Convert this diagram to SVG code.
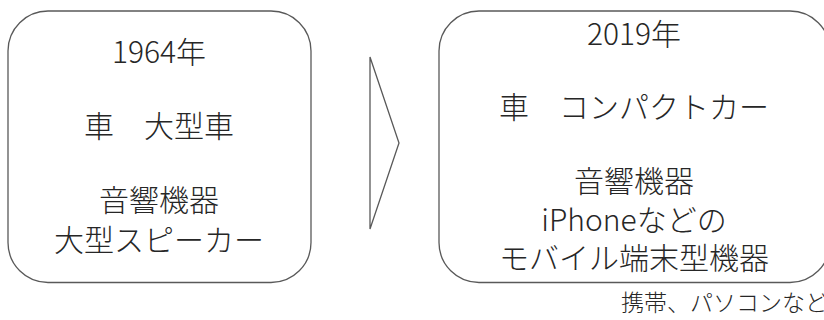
<svg xmlns="http://www.w3.org/2000/svg" width="824" height="320" viewBox="0 0 824 320">
<style>
.box{fill:#ffffff;stroke:#595959;stroke-width:1.3}
.t{font-family:"Noto Sans CJK JP","Noto Sans",sans-serif;font-size:30px;font-weight:300;fill:#262626;text-anchor:middle}
.c{font-family:"Noto Sans CJK JP","Noto Sans",sans-serif;font-size:23px;font-weight:300;fill:#262626}
</style>
<rect width="824" height="320" fill="#ffffff"/>
<g id="box1964">
<rect class="box" x="8" y="11" width="303" height="271.5" rx="40" ry="40"/>
<text class="t" x="159" y="63">1964年</text>
<text class="t" x="159" y="137">車　大型車</text>
<text class="t" x="159" y="211">音響機器</text>
<text class="t" x="159" y="251">大型スピーカー</text>
</g>
<g id="connectors">
<polygon points="370,57 399,143 370,229" fill="#ffffff" stroke="#595959" stroke-width="1.3"/>
</g>
<g id="box2019">
<rect class="box" x="439" y="11" width="391" height="271.5" rx="40" ry="40"/>
<text class="t" x="634" y="45">2019年</text>
<text class="t" x="634" y="118">車　コンパクトカー</text>
<text class="t" x="634" y="192">音響機器</text>
<text class="t" x="634" y="231">iPhoneなどの</text>
<text class="t" x="634" y="269">モバイル端末型機器</text>
</g>
<g id="caption">
<text class="c" x="621" y="311">携帯、パソコンなど</text>
</g>
</svg>
